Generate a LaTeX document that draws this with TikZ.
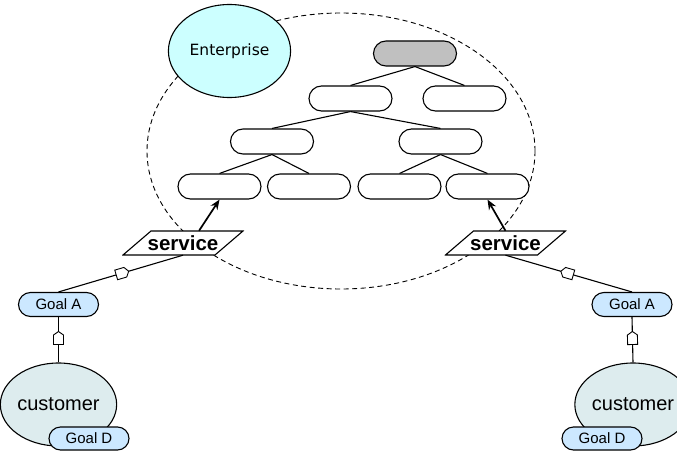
\documentclass[tikz,border=0pt]{standalone}
\usepackage{fontspec}
\setmainfont{Liberation Sans}
\newfontfamily\entfont{DejaVu Sans}
\usetikzlibrary{positioning,shapes.geometric,shapes.misc,shapes.symbols,arrows.meta,calc}
\definecolor{EntCyan}{RGB}{204,255,255}
\definecolor{GoalBlue}{RGB}{204,232,255}
\definecolor{CustTeal}{RGB}{221,236,238}
\definecolor{RootGray}{RGB}{192,192,192}

\begin{document}
\begin{tikzpicture}[x=1pt,y=-1pt,
    unit/.style={rounded rectangle,draw,line width=1.1pt,fill=white,minimum width=83pt,minimum height=25pt,inner sep=0pt},
    goal/.style={rounded rectangle,draw,line width=1.1pt,fill=GoalBlue,minimum width=80pt,minimum height=24pt,inner sep=0pt,font=\fontsize{15}{18}\selectfont},
    customer/.style={ellipse,draw,line width=1.1pt,fill=CustTeal,minimum width=103pt,minimum height=83pt,inner sep=0pt,font=\fontsize{20}{24}\selectfont},
    service/.style={rectangle,minimum width=122pt,minimum height=26pt,inner sep=0pt,font=\fontsize{20.5}{24}\selectfont\bfseries,
      path picture={\draw[line width=1.1pt,fill=white]
        ($(path picture bounding box.south west)+(1,-1)$) --
        ($(path picture bounding box.south east)+(-29,-1)$) --
        ($(path picture bounding box.north east)+(-1,1)$) --
        ($(path picture bounding box.north west)+(29,1)$) -- cycle;}},
    house/.style={signal,signal to=east,signal pointer angle=110,draw,line width=0.9pt,fill=white,minimum width=13pt,minimum height=10pt,inner sep=0pt,sloped,allow upside down},
    link/.style={line width=1.1pt},
    arrow/.style={-{Stealth[length=10pt,width=8pt]},line width=1.7pt}
]
\useasboundingbox (0,0) rectangle (677,452);
\clip (0,0) rectangle (677,452);

% Enterprise scope
\node[ellipse,draw,line width=0.9pt,dash pattern=on 5pt off 3.5pt,minimum width=388pt,minimum height=276pt] (scope) at (341,151) {};
\node[ellipse,draw,line width=1.1pt,fill=EntCyan,minimum width=117pt,minimum height=93pt,font=\entfont\fontsize{15.5}{18}\selectfont] (enterprise) at (229.5,51) {Enterprise};

% Organisation tree
\node[unit,fill=RootGray] (root) at (415,53.5) {};
\node[unit] (mid-left) at (350.5,98.5) {};
\node[unit] (mid-right) at (464.5,98.5) {};
\node[unit] (low-left) at (272,141.5) {};
\node[unit] (low-right) at (440.5,141.5) {};
\node[unit] (leaf1) at (219.5,186.5) {};
\node[unit] (leaf2) at (309,186.5) {};
\node[unit] (leaf3) at (399.5,186.5) {};
\node[unit] (leaf4) at (487.5,186.5) {};

\draw[link] (root.south) -- (mid-left.north);
\draw[link] (root.south) -- (mid-right.north);
\draw[link] (mid-left.south) -- (low-left.north);
\draw[link] (mid-left.south) -- (low-right.north);
\draw[link] (low-left.south) -- (leaf1.north);
\draw[link] (low-left.south) -- (leaf2.north);
\draw[link] (low-right.south) -- (leaf3.north);
\draw[link] (low-right.south) -- (leaf4.north);

% Services
\node[service] (service-left) at (183,243) {service};
\node[service] (service-right) at (505.5,243) {service};
\draw[arrow] ([xshift=16pt,yshift=-1pt]service-left.north) -- (leaf1.south);
\draw[arrow] ([yshift=-1pt]service-right.north) -- (leaf4.south);

% Customers and goals
\node[goal] (goal-a-left) at (58.5,304.5) {Goal A};
\node[goal] (goal-a-right) at (632,304.5) {Goal A};
\node[customer] (customer-left) at (58.5,404.5) {customer};
\node[customer] (customer-right) at (633,404.5) {customer};
\node[goal,minimum height=23pt] (goal-d-left) at (89,438.5) {Goal D};
\node[goal,minimum height=23pt] (goal-d-right) at (602,438.5) {Goal D};

\draw[link] (goal-a-left.north) -- node[house] {} ([yshift=1pt]service-left.south);
\draw[link] (goal-a-right.north) -- node[house] {} ([yshift=1pt]service-right.south);
\draw[link] (customer-left.north) -- node[house] {} (goal-a-left.south);
\draw[link] (customer-right.north) -- node[house] {} (goal-a-right.south);

\end{tikzpicture}
\end{document}
